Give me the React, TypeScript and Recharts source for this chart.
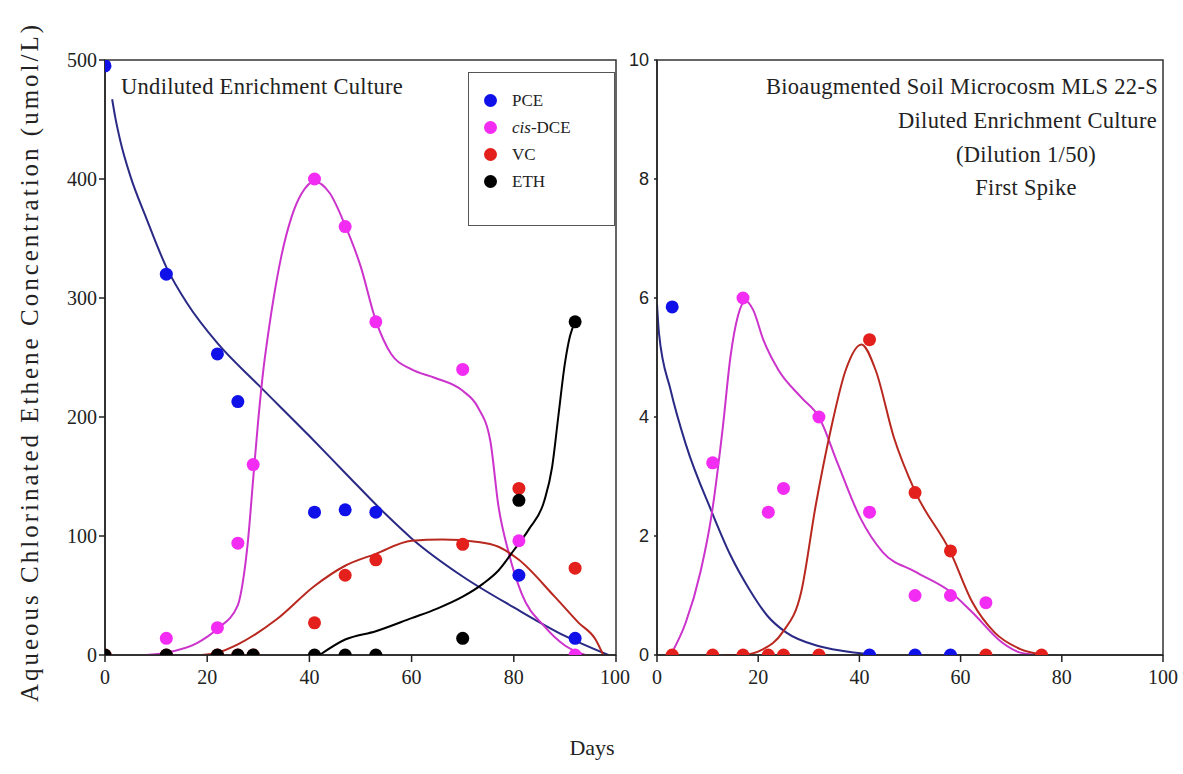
import React from "react"
import { ComposedChart, Scatter, Line, XAxis, YAxis, ReferenceArea, Legend } from "recharts"

const SERIF = "'Liberation Serif', 'DejaVu Serif', serif"
const SANS = "'Liberation Sans', Arial, sans-serif"

const BLUE = "#1010e8"
const MAGENTA = "#f22cf2"
const RED = "#e3201c"
const BLACK = "#000000"

const BLUE_LINE = "#2a2a86"
const MAGENTA_LINE = "#cc33cc"
const RED_LINE = "#b8281f"

// --- Undiluted enrichment culture: measured (umol/L) ---
const undilPceDays = [0, 12, 22, 26, 41, 47, 53, 81, 92]
const undilPce = [495, 320, 253, 213, 120, 122, 120, 67, 14]
const undilDceDays = [12, 22, 26, 29, 41, 47, 53, 70, 81, 92]
const undilDce = [14, 23, 94, 160, 400, 360, 280, 240, 96, 0]
const undilVcDays = [0, 12, 22, 26, 29, 41, 47, 53, 70, 81, 92]
const undilVc = [0, 0, 0, 0, 0, 27, 67, 80, 93, 140, 73]
const undilEthDays = [0, 12, 22, 26, 29, 41, 47, 53, 70, 81, 92]
const undilEth = [0, 0, 0, 0, 0, 0, 0, 0, 14, 130, 280]

// --- Undiluted enrichment culture: model curves ---
const undilPceFitDays = [1.4, 2, 3, 5, 8, 12, 16, 22, 30, 40, 47, 55, 60, 70, 80, 90, 98.5]
const undilPceFit = [467, 452, 432, 402, 368, 326, 296, 262, 227, 184, 153, 118, 98, 66, 40, 16, 0]
const undilDceFitDays = [8, 12, 18, 22, 26, 27, 28, 29, 30, 31, 32, 33, 34.5, 36.5, 38.5, 41, 44, 47, 50, 53, 56, 60, 64.5, 70, 73, 75.4, 77, 79, 81.5, 86, 90, 94]
const undilDceFit = [0, 2, 10, 22, 42, 62, 97, 148, 198, 240, 272, 300, 335, 368, 388, 398, 388, 361, 327, 281, 253, 240, 233, 222, 208, 180, 125, 86, 52, 24, 8, 0]
const undilVcFitDays = [19, 22, 26, 33.6, 41, 47, 53, 60, 66, 73, 77, 81, 88, 92.7, 96, 97.5]
const undilVcFit = [0, 2, 9, 30, 58, 75, 85, 96, 97, 95, 91, 80, 49, 27, 13, 0]
const undilEthFitDays = [42, 47, 53, 60, 65, 70, 74, 77, 80, 83, 86, 87.5, 88.7, 90, 91, 92]
const undilEthFit = [0, 13, 20, 31, 39, 49, 60, 71, 88, 106, 130, 158, 200, 245, 268, 280]

// --- Diluted culture (1/50), first spike: measured (umol/L) ---
const dilPceDays = [3, 42, 51, 58]
const dilPce = [5.85, 0, 0, 0]
const dilDceDays = [11, 17, 22, 25, 32, 42, 51, 58, 65]
const dilDce = [3.23, 6.0, 2.4, 2.8, 4.0, 2.4, 1.0, 1.0, 0.88]
const dilVcDays = [3, 11, 17, 22, 25, 32, 42, 51, 58, 65, 76]
const dilVc = [0, 0, 0, 0, 0, 0, 5.3, 2.73, 1.75, 0, 0]

// --- Diluted culture: model curves ---
const dilPceFitDays = [0, 0.4, 2.7, 5.7, 10.8, 14.5, 18.2, 21.8, 25.5, 31.9, 36.5, 42]
const dilPceFit = [5.9, 5.4, 4.45, 3.54, 2.41, 1.68, 1.11, 0.66, 0.38, 0.15, 0.07, 0.01]
const dilDceFitDays = [2.7, 5.7, 8.6, 10.8, 13, 14.5, 16, 17.5, 19, 21, 24, 28.5, 32, 35.8, 40.2, 44.6, 51, 58, 62.3, 68.2, 71.8, 75.6]
const dilDceFit = [0, 0.55, 1.4, 2.36, 3.82, 5.0, 5.7, 5.95, 5.8, 5.3, 4.79, 4.33, 4.0, 3.2, 2.3, 1.73, 1.4, 1.06, 0.72, 0.21, 0.04, 0]
const dilVcFitDays = [13, 16.7, 21, 24.8, 28.5, 31.4, 34.3, 37.3, 40.4, 43.2, 46.8, 51, 58, 62.3, 66.7, 71.8, 77]
const dilVcFit = [0, 0, 0.1, 0.38, 1.06, 2.53, 3.77, 4.79, 5.22, 4.79, 3.66, 2.75, 1.73, 0.89, 0.38, 0.1, 0]

const dayTicks = [0, 20, 40, 60, 80, 100]
const undilTicks = [0, 100, 200, 300, 400, 500]
const dilTicks = [0, 2, 4, 6, 8, 10]

const legendItems = [
  { key: "PCE", color: BLUE },
  { key: "cis-DCE", color: MAGENTA },
  { key: "VC", color: RED },
  { key: "ETH", color: BLACK },
]

const zip = (xs: number[], ys: number[]) => xs.map((x, i) => ({ x, y: ys[i] }))

const dot = (color: string) => (props: any) =>
  props.cx == null ? <g /> : <circle cx={props.cx} cy={props.cy} r={6.5} fill={color} />

function LegendBox() {
  return (
    <div
      style={{
        width: 147,
        height: 154,
        boxSizing: "border-box",
        border: "1.5px solid #555",
        background: "#fff",
        paddingTop: 14,
        fontFamily: SERIF,
        fontSize: 17,
        color: "#222",
      }}
    >
      {legendItems.map((it) => (
        <div key={it.key} style={{ display: "flex", alignItems: "center", height: 27 }}>
          <span
            style={{
              display: "inline-block",
              width: 13,
              height: 13,
              borderRadius: "50%",
              background: it.color,
              marginLeft: 15,
              marginRight: 15,
            }}
          />
          {it.key === "cis-DCE" ? (
            <span>
              <i>cis</i>-DCE
            </span>
          ) : (
            <span>{it.key}</span>
          )}
        </div>
      ))}
    </div>
  )
}

const serifTick = { fontFamily: SERIF, fontSize: 20, fill: "#222" }
const sansTick = { fontFamily: SANS, fontSize: 18, fill: "#222" }
const axisLine = { stroke: "#222", strokeWidth: 1.5 }

function UndilutedPanel() {
  return (
    <ComposedChart width={630} height={774} margin={{ top: 60, right: 14, bottom: 79, left: 45 }}>
      <XAxis
        type="number"
        dataKey="x"
        domain={[0, 100]}
        ticks={dayTicks}
        tick={serifTick}
        tickSize={7}
        tickMargin={8}
        height={40}
        axisLine={axisLine}
        tickLine={axisLine}
        allowDataOverflow
      />
      <YAxis
        type="number"
        dataKey="y"
        domain={[0, 500]}
        ticks={undilTicks}
        tick={serifTick}
        tickSize={6}
        tickMargin={2}
        width={60}
        axisLine={axisLine}
        tickLine={axisLine}
        allowDataOverflow
      />
      <ReferenceArea x1={0} x2={100} y1={0} y2={500} fill="none" stroke="#333" strokeWidth={1.5} />
      <Line data={zip(undilPceFitDays, undilPceFit)} dataKey="y" type="monotone" stroke={BLUE_LINE} strokeWidth={2} dot={false} isAnimationActive={false} />
      <Line data={zip(undilDceFitDays, undilDceFit)} dataKey="y" type="monotone" stroke={MAGENTA_LINE} strokeWidth={2} dot={false} isAnimationActive={false} />
      <Line data={zip(undilVcFitDays, undilVcFit)} dataKey="y" type="monotone" stroke={RED_LINE} strokeWidth={2} dot={false} isAnimationActive={false} />
      <Line data={zip(undilEthFitDays, undilEthFit)} dataKey="y" type="monotone" stroke={BLACK} strokeWidth={2} dot={false} isAnimationActive={false} />
      <Scatter name="PCE" data={zip(undilPceDays, undilPce)} shape={dot(BLUE)} isAnimationActive={false} />
      <Scatter name="cis-DCE" data={zip(undilDceDays, undilDce)} shape={dot(MAGENTA)} isAnimationActive={false} />
      <Scatter name="VC" data={zip(undilVcDays, undilVc)} shape={dot(RED)} isAnimationActive={false} />
      <Scatter name="ETH" data={zip(undilEthDays, undilEth)} shape={dot(BLACK)} isAnimationActive={false} />
      <Legend
        layout="vertical"
        align="center"
        verticalAlign="middle"
        content={() => <LegendBox />}
        wrapperStyle={{ left: 468, top: 72, width: 147, height: 154 }}
      />
    </ComposedChart>
  )
}

function DilutedPanel() {
  return (
    <ComposedChart width={563} height={774} margin={{ top: 60, right: 20, bottom: 79, left: 7 }}>
      <XAxis
        type="number"
        dataKey="x"
        domain={[0, 100]}
        ticks={dayTicks}
        tick={serifTick}
        tickSize={7}
        tickMargin={8}
        height={40}
        axisLine={axisLine}
        tickLine={axisLine}
        allowDataOverflow
      />
      <YAxis
        type="number"
        dataKey="y"
        domain={[0, 10]}
        ticks={dilTicks}
        tick={sansTick}
        tickSize={3}
        tickMargin={5}
        width={30}
        axisLine={axisLine}
        tickLine={axisLine}
        allowDataOverflow
      />
      <ReferenceArea x1={0} x2={100} y1={0} y2={10} fill="none" stroke="#333" strokeWidth={1.5} />
      <Line data={zip(dilPceFitDays, dilPceFit)} dataKey="y" type="monotone" stroke={BLUE_LINE} strokeWidth={2} dot={false} isAnimationActive={false} />
      <Line data={zip(dilDceFitDays, dilDceFit)} dataKey="y" type="monotone" stroke={MAGENTA_LINE} strokeWidth={2} dot={false} isAnimationActive={false} />
      <Line data={zip(dilVcFitDays, dilVcFit)} dataKey="y" type="monotone" stroke={RED_LINE} strokeWidth={2} dot={false} isAnimationActive={false} />
      <Scatter name="cis-DCE" data={zip(dilDceDays, dilDce)} shape={dot(MAGENTA)} isAnimationActive={false} />
      <Scatter name="VC" data={zip(dilVcDays, dilVc)} shape={dot(RED)} isAnimationActive={false} />
      <Scatter name="PCE" data={zip(dilPceDays, dilPce)} shape={dot(BLUE)} isAnimationActive={false} />
    </ComposedChart>
  )
}

const noteStyle: React.CSSProperties = {
  position: "absolute",
  fontFamily: SERIF,
  fontSize: 22.5,
  letterSpacing: 0.3,
  color: "#222",
  whiteSpace: "nowrap",
  lineHeight: 1,
}

export default function App() {
  return (
    <div style={{ position: "absolute", left: 0, top: 0, width: 1183, height: 774, background: "#fff", overflow: "hidden" }}>
      <div style={{ position: "absolute", left: 0, top: 0 }}>
        <UndilutedPanel />
      </div>
      <div style={{ position: "absolute", left: 620, top: 0 }}>
        <DilutedPanel />
      </div>

      <div style={{ ...noteStyle, left: 121, top: 76 }}>Undiluted Enrichment Culture</div>

      <div style={{ ...noteStyle, right: 1183 - 1158, top: 76 }}>Bioaugmented Soil Microcosm MLS 22-S</div>
      <div style={{ ...noteStyle, right: 1183 - 1157, top: 110 }}>Diluted Enrichment Culture</div>
      <div style={{ ...noteStyle, left: 1026, top: 144, transform: "translateX(-50%)" }}>(Dilution 1/50)</div>
      <div style={{ ...noteStyle, left: 1026, top: 177, transform: "translateX(-50%)" }}>First Spike</div>

      <div
        style={{
          position: "absolute",
          left: 30,
          top: 362,
          transform: "translate(-50%, -50%) rotate(-90deg)",
          fontFamily: SERIF,
          fontSize: 25,
          letterSpacing: 3,
          color: "#222",
          whiteSpace: "nowrap",
        }}
      >
        Aqueous Chlorinated Ethene Concentration (umol/L)
      </div>
      <div
        style={{
          position: "absolute",
          left: 592,
          top: 748,
          transform: "translate(-50%, -50%)",
          fontFamily: SERIF,
          fontSize: 22,
          color: "#222",
        }}
      >
        Days
      </div>
    </div>
  )
}
